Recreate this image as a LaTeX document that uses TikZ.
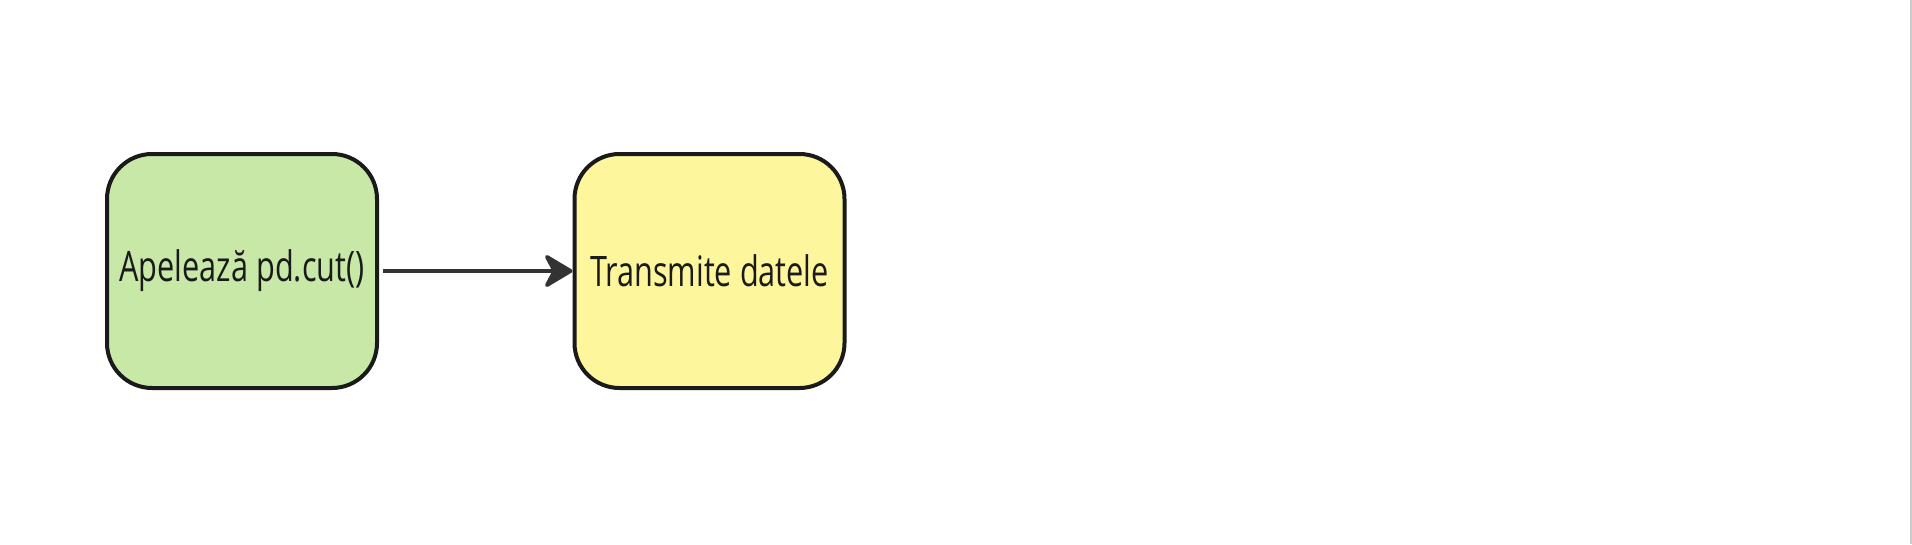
\documentclass[tikz,border=0pt]{standalone}
\usepackage{fontspec}
\setmainfont{Open Sans}[FakeStretch=0.73]
\usetikzlibrary{arrows.meta}
\definecolor{boxgreen}{HTML}{C8E8A8}
\definecolor{boxyellow}{HTML}{FDF69C}
\definecolor{edgedark}{HTML}{1A1A1A}
\definecolor{arrowdark}{HTML}{333333}
\begin{document}
\begin{tikzpicture}[x=1pt,y=-1pt,
  procbox/.style={draw=edgedark, line width=4pt, rounded corners=45pt,
    minimum width=270pt, minimum height=234pt, inner sep=0pt,
    font=\fontsize{42}{50}\selectfont, text=edgedark},
  flow/.style={draw=arrowdark, line width=3.8pt,
    -{Stealth[length=32pt, width=38pt, inset=10pt, line join=round, fill=arrowdark]}}]
  \useasboundingbox[fill=white] (0,0) rectangle (1912,544);
  \draw[line width=1.5pt, draw=black!20] (1911,0) -- (1911,544);
  \node[procbox, fill=boxgreen] (a) at (242,271) {Apelează pd.cut()};
  \node[procbox, fill=boxyellow] (b) at (709.5,271) {Transmite datele};
  \draw[flow] ([xshift=4pt]a.east) -- (b.west);
\end{tikzpicture}
\end{document}
